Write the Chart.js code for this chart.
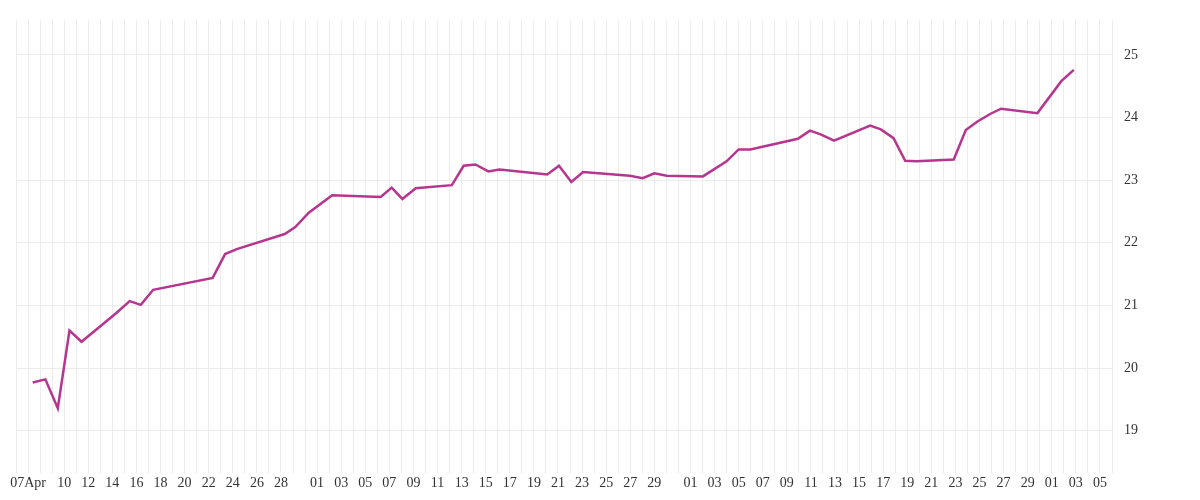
<!DOCTYPE html>
<html>
<head>
<meta charset="utf-8">
<script src="https://cdn.jsdelivr.net/npm/chart.js@4"></script>
<style>
  html, body { margin: 0; padding: 0; background: #fff; }
  #wrap { width: 1200px; height: 500px; }
</style>
</head>
<body>
<div id="wrap"><canvas id="chart"></canvas></div>
<script>
// x = days since 06 Apr (fractional), y = value
const dayOffsets = [1.39, 2.44, 3.47, 4.44, 5.44, 8.33, 9.44, 10.36, 11.39, 16.33, 17.36, 18.33,
  22.31, 23.19, 24.31, 26.25, 30.28, 31.19, 32.08, 33.19, 36.19, 37.17, 38.14, 39.22, 40.14,
  44.11, 45.08, 46.11, 47.08, 50.97, 52.03, 53.0, 54.03, 57.03, 59.0, 60.0, 60.97, 64.92,
  65.92, 66.81, 67.92, 70.92, 71.81, 72.86, 73.83, 74.78, 77.86, 78.86, 79.86, 80.92, 81.79,
  84.81, 86.79, 87.83];
const values = [19.77, 19.82, 19.36, 20.60, 20.42, 20.88, 21.07, 21.01, 21.25, 21.44, 21.82, 21.90,
  22.14, 22.25, 22.48, 22.76, 22.73, 22.88, 22.70, 22.87, 22.92, 23.23, 23.25, 23.14, 23.17,
  23.09, 23.23, 22.97, 23.13, 23.07, 23.03, 23.11, 23.07, 23.06, 23.30, 23.49, 23.49, 23.66,
  23.79, 23.73, 23.63, 23.87, 23.81, 23.67, 23.31, 23.30, 23.33, 23.80, 23.94, 24.06, 24.14,
  24.07, 24.58, 24.76];
const yTicks = [19, 20, 21, 22, 23, 24, 25];

const startDate = new Date(2024, 3, 6);

function dayLabel(i) {
  const d = new Date(startDate.getTime());
  d.setDate(d.getDate() + i);
  const day = d.getDate();
  const m = d.getMonth();
  const dd = String(day).padStart(2, "0");
  if (m === 3) {
    if (day === 7) return "07Apr";
    return (day >= 10 && day <= 28 && day % 2 === 0) ? dd : "";
  }
  return (day % 2 === 1 && day <= 29) ? dd : "";
}

const points = dayOffsets.map((x, i) => ({ x: x, y: values[i] }));

new Chart(document.getElementById("chart"), {
  type: "line",
  data: {
    datasets: [{
      data: points,
      borderColor: "#b5358f",
      borderWidth: 2.5,
      pointRadius: 0,
      tension: 0,
    }],
  },
  options: {
    responsive: true,
    maintainAspectRatio: false,
    animation: false,
    layout: { padding: { left: 16, right: 50, top: 12, bottom: 6 } },
    plugins: { legend: { display: false }, tooltip: { enabled: false } },
    scales: {
      x: {
        type: "linear",
        min: 0,
        max: 91,
        border: { display: false },
        grid: { color: "#ececec", drawTicks: true, tickLength: 8 },
        ticks: {
          stepSize: 1,
          autoSkip: false,
          maxRotation: 0,
          color: "#333",
          font: { family: "Liberation Serif", size: 14 },
          padding: 2,
          callback: (v) => dayLabel(v),
        },
        afterBuildTicks: (axis) => {
          axis.ticks = [];
          for (let i = 0; i <= 91; i++) axis.ticks.push({ value: i });
        },
      },
      y: {
        position: "right",
        min: 18.45,
        max: 25.55,
        border: { display: false },
        grid: { color: "#ececec", drawTicks: false },
        afterBuildTicks: (axis) => { axis.ticks = yTicks.map((v) => ({ value: v })); },
        ticks: {
          color: "#333",
          font: { family: "Liberation Serif", size: 14 },
          padding: 12,
        },
      },
    },
  },
});
</script>
</body>
</html>
